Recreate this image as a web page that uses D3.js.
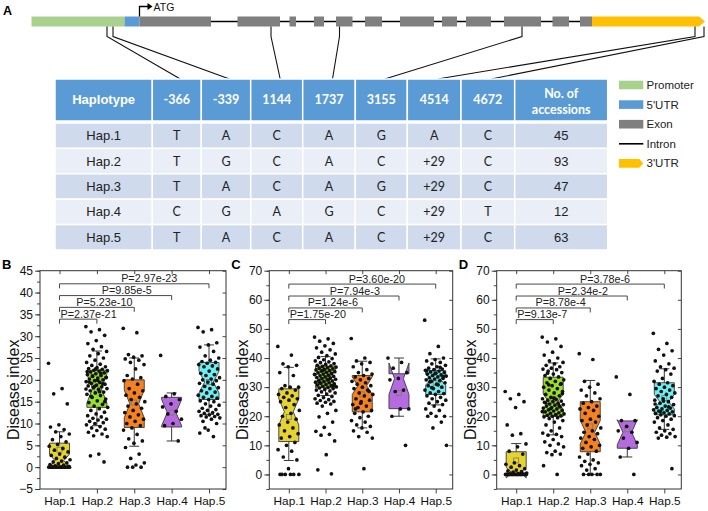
<!DOCTYPE html>
<html>
<head>
<meta charset="utf-8">
<script src="https://d3js.org/d3.v7.min.js"></script>
<style>
  body { margin: 0; background: #fff; }
  svg { display: block; font-family: "Liberation Sans", Arial, sans-serif; }
</style>
</head>
<body>
<svg id="fig" width="708" height="511"></svg>
<script>
// ---------- panel A: gene model (arbitrary units along the gene)
const geneSpan = [0, 673.5];
const promoter = [0, 93];
const utr5 = [93, 108];
const exons = [[108, 179.5], [206, 248.5], [258, 264.5], [282.5, 292.5], [304.5, 321], [333.5, 350.5],
  [368.5, 402.5], [410.5, 425.5], [434.5, 459.5], [472.5, 509.5], [521, 537.5], [548.5, 560.5]];
const utr3 = [560.5, 673.5];
const snpGenePos = [75.5, 81.5, 239.5, 308, 490.5, 663.5, 672.5];

// haplotype table
const snpNames = ["-366", "-339", "1144", "1737", "3155", "4514", "4672"];
const haps = ["Hap.1", "Hap.2", "Hap.3", "Hap.4", "Hap.5"];
const alleles = [
  ["T", "A", "C", "A", "G", "A", "C"],
  ["T", "G", "C", "A", "C", "+29", "C"],
  ["T", "A", "C", "A", "G", "+29", "C"],
  ["C", "G", "A", "G", "C", "+29", "T"],
  ["T", "A", "C", "A", "C", "+29", "C"]
];
const accessions = [45, 93, 47, 12, 63];
const legendNames = ["Promoter", "5'UTR", "Exon", "Intron", "3'UTR"];
const legendColors = ["#a9d18e", "#5b9bd5", "#7f7f7f", "#000", "#ffc000"];

// ---------- panel B
const diB = [
  [23.8,18,16.8,14.5,9.7,9.2,8.6,8.1,7.6,7.0,6.3,5.8,5.2,4.8,4.3,3.9,3.5,3.0,2.7,2.3,2.0,1.7,1.4,1.2,1.0,0.8,0.6,0.5,0.3,0.2,0,0,0,0,0,0,0,0,0,0,0,0,0,0,0],
  [32.2,31.5,31.0,30.2,29.0,28.3,27.6,27.0,26.5,26.0,25.5,25.0,24.5,24.0,23.6,23.3,23.0,22.8,22.6,22.4,22.2,22.1,22.0,21.8,21.6,21.4,21.2,21.0,20.8,20.6,20.4,20.2,20.0,
   19.8,19.6,19.4,19.2,19.0,18.8,18.6,18.4,18.2,18.0,17.8,17.5,17.2,17.0,16.7,16.4,16.0,15.6,15.2,14.8,14.4,14.0,13.7,
   13.4,13.0,12.6,12.2,11.8,11.5,11.2,11.0,10.8,10.5,10.2,10.0,9.7,9.3,9.0,8.7,8.4,8.0,7.6,7.2,7.0,3.0,2.6,1.2,
   22.5,21.9,21.5,20.9,20.5,19.9,19.5,19.1,18.5,17.9,17.3,16.2,15.0],
  [31.8,30.8,25.8,25.5,25.2,24.8,24.5,24,23.5,22.5,21,20.5,20.2,19.8,19,18,17.5,17,16.5,16,15.5,15,14.5,14,13.5,13,12.5,12,11.5,11,10.5,10,9.5,9,8.5,7.5,6.5,6,5.5,4.5,3,2,1,0.5,0,0,0],
  [25.6,16.8,16.2,15.5,14.5,13.8,12.8,12.2,11,10,9.5,6],
  [32,31.5,31,28.5,28,27.5,26.5,25.5,25,24.5,24.2,24,23.8,23.5,23.2,23,22.5,22,21.5,21.2,21,20.5,20.2,20,19.8,19.5,19.2,19,18.5,18.2,
   18,17.5,17.2,17,16.5,16.2,16,15.8,15.5,15.2,15,14.5,14.2,14,13.5,13.2,13,12.8,12.5,12.3,12.1,12,11.8,11.6,11.5,11.3,11,10.5,10,8.5,7.8,7,9]
];
const q1B = [0, 13.7, 9.1, 9.2, 15.5];
const medB = [1.5, 18, 14.5, 12.5, 19.5];
const q3B = [5.5, 22.2, 20, 16, 24];
const notchB = [1.5, 3.3, 3.2, 3, 2.5];
const wloB = [0, 9.5, 4.8, 6, 12.1];
const whiB = [8.1, 26.6, 25, 17, 28];
const meanB = [4.0, 17.8, 14.8, 12.5, 19.5];
const pB = ["P=2.37e-21", "P=5.23e-10", "P=9.85e-5", "P=2.97e-23"];
const barB = [33.9, 36.6, 39.3, 42.0];

// ---------- panel C
const diC = [
  [44,41,38,37.5,37,35,34,30.5,30,30,29.5,29,28,27.5,27,26.5,26,25.5,25,24,23,22,21,20,19,18,17,16,15,14,13,12.5,11,10,8.5,8,6,5,2,0,0,0,0,0,0],
  [47.2,46.6,45.8,45.0,44.2,43.5,42.8,42.0,41.4,40.8,40.2,39.8,39.4,39.0,38.7,38.4,38.1,37.8,37.5,37.3,37.1,36.9,36.7,36.5,36.3,36.1,35.9,35.7,35.5,35.3,
   35.1,34.9,34.7,34.5,34.3,34.1,33.9,33.7,33.5,33.3,33.1,32.9,32.7,32.5,32.3,32.1,31.9,31.7,31.5,31.3,31.1,30.9,30.7,30.5,30.3,30.1,29.9,29.7,29.5,29.2,
   29.0,28.7,28.4,28.0,27.6,27.2,26.8,26.4,26.0,25.7,25.4,25.1,24.8,24.5,24.2,23.5,22.0,21.0,19.8,18.0,16.2,14.8,13.8,13.5,11.5,6.8,1.6,0.2,35.8,34.4,32.6,31.6,30.6],
  [46.7,40,39,38.5,38,37,36,35,34.5,34,33.5,33,32.5,32,31.5,31,30.5,30,29.5,29,28,27.5,27,26,25.5,25,24,23.5,23,22,21.5,21,20,19.5,18.5,18,17,16.5,16,15,14.5,13,12.5,2,22.5,28.5,24.5],
  [40,38.5,36.5,35,33,32.5,29,28.5,22.5,22.5,20,10],
  [53,44,41.5,40,39.5,39,38.5,38,37.5,37,36.5,36.2,36,35.8,35.5,35.2,35,34.8,34.5,34.2,34,33.8,33.5,33.2,33,32.8,32.5,32.2,32,31.5,
   31,30.5,30,29.5,29,28.5,28,27.8,27.5,27,26.5,26,25.5,25,24.5,24,23.5,22.5,22,21,20,20,20,18,16,10,30.8,31.8,33.6,34.6,35.6,36.8,29.8]
];
const q1C = [11.3, 29.8, 21.5, 22.6, 27.5];
const medC = [21.5, 33.5, 30.5, 32.9, 32.6];
const q3C = [29.4, 37.2, 34, 34.6, 35.7];
const notchC = [4.5, 2.5, 3, 5.4, 1.8];
const wloC = [4.8, 27.1, 16, 20, 23.9];
const whiC = [36.8, 40.5, 38.9, 40, 39.7];
const meanC = [19.8, 32.5, 27.5, 28, 31.3];
const pC = ["P=1.75e-20", "P=1.24e-6", "P=7.94e-3", "P=3.60e-20"];
const barC = [53.2, 57.2, 61.3, 65.4];

// ---------- panel D
const diD = [
  [28.5,27.5,26,25,23,17,14,13.5,10.5,9.5,8,7,4,3.5,3,2.5,2,1.5,1.2,1,0.8,0.5,0.3,0.2,0.1,0,0,0,0,0,0,0,0,0,0,0,0,0,0,0,0,0,0,0,0],
  [47.2,46.6,45.5,44.0,42.0,41.0,40.0,39.0,38.5,38.0,37.5,37.0,36.5,36.2,36.0,35.5,35.0,34.5,34.0,33.5,33.0,32.5,32.0,31.5,31.0,30.5,30.0,29.5,29.0,28.5,
   28.0,27.5,27.0,26.5,26.0,25.8,25.5,25.2,25.0,24.8,24.5,24.2,24.0,23.8,23.5,23.2,23.0,22.8,22.5,22.2,22.0,21.8,21.5,21.2,21.0,20.8,20.5,20.3,20.1,20.0,
   19.8,19.5,19.2,18.5,18.0,17.0,16.0,15.0,14.2,13.8,13.5,13.0,12.0,11.2,10.5,10.0,9.5,8.0,7.5,7.0,6.8,3.0,0.0,30.8,27.8,26.2,24.6,23.6,22.6,21.6,20.6,34.8,31.2],
  [41.5,39.5,32,31,30,29,28,27,26,25,24.5,23.5,23,22.5,22,21,20,19,18.5,18,17,16,15,14.5,14,13,12.5,12,11,10,9.5,9,8,7,6,5,4.5,4,3.5,3,2,1.5,0,0,0,0,0],
  [33.5,27.5,18.5,18.5,16.5,15,14.5,12.5,11,9,6,0],
  [48.5,45,43,42.5,41,39,38,37,36.5,36,35.5,34.5,33,32,31.5,31,30.5,30,29.5,29,28.5,28,27.5,27,26.5,26,25.5,25,24.5,24,
   23.5,23,22.8,22.5,22.2,22,21.8,21.5,21.2,21,20.8,20.5,20.2,20,19.5,19,18.5,18,17,16,15.5,15,14.5,14,13.5,13,12.8,12.5,2,25.2,24.2,23.2,21.6]
];
const q1D = [0, 20, 7.8, 9, 20.5];
const medD = [0.6, 25, 14.5, 14.5, 25];
const q3D = [7.8, 33.4, 25, 18.4, 31.5];
const notchD = [1.8, 2.6, 4, 4.3, 2.5];
const wloD = [0, 13.6, 0, 6, 15.5];
const whiD = [10.6, 38.3, 32.3, 18.4, 36.3];
const meanD = [4.8, 26, 16.5, 15.5, 26.2];
const pD = ["P=9.13e-7", "P=8.78e-4", "P=2.34e-2", "P=3.78e-6"];
const barD = [53.2, 57.2, 61.3, 65.4];

const boxColors = ["#e6d42e", "#99e026", "#f5821f", "#b56ae0", "#6cf0f2"];

const svg = d3.select("#fig");

// ================= A: gene structure
const gx = d3.scaleLinear().domain(geneSpan).range([31.5, 705]);
const gTop = 16.5, gBot = 26.5, gMid = 21.5;

svg.append("text").attr("x", 3).attr("y", 15).attr("font-weight", "bold").attr("font-size", 12.5).text("A");

svg.append("line")
  .attr("x1", gx(exons[0][1])).attr("x2", gx(utr3[0]))
  .attr("y1", gMid).attr("y2", gMid)
  .attr("stroke", "#000").attr("stroke-width", 1.5);

svg.append("rect").attr("x", gx(promoter[0])).attr("y", gTop)
  .attr("width", gx(promoter[1]) - gx(promoter[0])).attr("height", gBot - gTop).attr("fill", legendColors[0]);
svg.append("rect").attr("x", gx(utr5[0])).attr("y", gTop)
  .attr("width", gx(utr5[1]) - gx(utr5[0])).attr("height", gBot - gTop).attr("fill", legendColors[1]);
svg.selectAll("rect.exon").data(exons).enter().append("rect").attr("class", "exon")
  .attr("x", d => gx(d[0])).attr("y", gTop)
  .attr("width", d => gx(d[1]) - gx(d[0])).attr("height", gBot - gTop)
  .attr("fill", legendColors[2]);
svg.append("polygon")
  .attr("points", [[gx(utr3[0]), gTop], [gx(utr3[1]) - 6, gTop], [gx(utr3[1]), gMid], [gx(utr3[1]) - 6, gBot], [gx(utr3[0]), gBot]].join(" "))
  .attr("fill", legendColors[4]);

// ATG start arrow
const atgX = gx(exons[0][0]);
svg.append("path").attr("d", `M${atgX},${gTop} V6.5 H${atgX + 9}`).attr("fill", "none").attr("stroke", "#000").attr("stroke-width", 1.3);
svg.append("polygon").attr("points", `${atgX + 13},6.5 ${atgX + 8},3 ${atgX + 8},10`).attr("fill", "#000");
svg.append("text").attr("x", atgX + 14).attr("y", 10.5).attr("font-size", 10.5).attr("fill", "#111").text("ATG");

// table
const colEdges = [55, 152.3, 201.3, 250.7, 302.7, 355.3, 407.3, 461, 514.7, 607.7];
const colMid = i => (colEdges[i] + colEdges[i + 1]) / 2;
const headTop = 79, headBot = 121, rowTop = 123, rowH = 25.4;

// connectors from SNPs to table columns
snpGenePos.forEach((p, i) => {
  svg.append("path")
    .attr("d", `M${gx(p)},${gBot} V${gBot + 10} L${colMid(i + 1) + 3.5},${headTop}`)
    .attr("fill", "none").attr("stroke", "#111").attr("stroke-width", 1.1);
});

const header = ["Haplotype", ...snpNames, "No. of accessions"];
header.forEach((h, i) => {
  svg.append("rect").attr("x", colEdges[i]).attr("y", headTop)
    .attr("width", colEdges[i + 1] - colEdges[i]).attr("height", headBot - headTop)
    .attr("fill", "#5b9bd5").attr("stroke", "#fff").attr("stroke-width", 1.5);
  const t = svg.append("text").attr("x", colMid(i)).attr("text-anchor", "middle")
    .attr("fill", "#fff").attr("font-weight", "bold");
  if (i === 0) {
    t.attr("y", headTop + 25).attr("font-size", 13).text(h);
  } else if (i === header.length - 1) {
    t.attr("font-family", "Lato").attr("font-size", 12.5);
    t.append("tspan").attr("x", colMid(i)).attr("y", headTop + 18.5).text("No. of");
    t.append("tspan").attr("x", colMid(i)).attr("y", headTop + 34.5).text("accessions");
  } else {
    t.attr("y", headTop + 25).attr("font-family", "Lato").attr("font-size", 12.5).text(h);
  }
});

haps.forEach((hp, r) => {
  const y0 = rowTop + r * rowH;
  const cells = [hp, ...alleles[r], String(accessions[r])];
  cells.forEach((c, i) => {
    svg.append("rect").attr("x", colEdges[i]).attr("y", y0)
      .attr("width", colEdges[i + 1] - colEdges[i]).attr("height", rowH)
      .attr("fill", r % 2 === 0 ? "#cfdaec" : "#e9eef7").attr("stroke", "#fff").attr("stroke-width", 1.5);
    const t = svg.append("text").attr("x", colMid(i)).attr("y", y0 + rowH / 2 + 4.5)
      .attr("text-anchor", "middle").attr("fill", "#222").text(c);
    if (i === 0 || i === cells.length - 1) t.attr("font-size", 13);
    else t.attr("font-family", "Lato").attr("font-size", 12.5);
  });
});

// legend
legendNames.forEach((nm, i) => {
  const cy = 85 + i * 19.6, lx = 619, lw = 24.3;
  if (nm === "Intron") {
    svg.append("line").attr("x1", lx).attr("x2", lx + lw).attr("y1", cy).attr("y2", cy)
      .attr("stroke", "#000").attr("stroke-width", 1.6);
  } else if (nm === "3'UTR") {
    svg.append("polygon")
      .attr("points", [[lx, cy - 4.3], [lx + lw - 4, cy - 4.3], [lx + lw, cy], [lx + lw - 4, cy + 4.3], [lx, cy + 4.3]].join(" "))
      .attr("fill", legendColors[i]);
  } else {
    svg.append("rect").attr("x", lx).attr("y", cy - 4.3).attr("width", lw).attr("height", 8.6).attr("fill", legendColors[i]);
  }
  svg.append("text").attr("x", 646.5).attr("y", cy + 4).attr("font-size", 11.5).attr("fill", "#222").text(nm);
});

// ================= B, C, D: notched box plots
const jit = i => (((i * 0.6180339887) % 1) - 0.5) * 22;

function panel(cfg) {
  const { letter, left, right, pTop, pBottom, domain, majors, minors, data, q1, med, q3, notch, wlo, whi, mean, pv, bars } = cfg;
  const y = d3.scaleLinear().domain(domain).range([pBottom, pTop]);
  const x = d3.scalePoint().domain(haps).range([left + 19.5, right - 17]);
  const g = svg.append("g");

  g.append("text").attr("x", left - 38).attr("y", 268.5).attr("font-weight", "bold").attr("font-size", 13).text(letter);

  // axes
  const axL = g.append("g").attr("transform", `translate(${left},0)`)
    .call(d3.axisLeft(y).tickValues(majors).tickSize(5).tickPadding(2).tickFormat(d3.format("d")));
  g.append("g").attr("transform", `translate(${left},0)`)
    .call(d3.axisLeft(y).tickValues(minors).tickSize(3).tickFormat(""));
  g.append("g").attr("transform", `translate(${right},0)`)
    .call(d3.axisLeft(y).tickValues(majors).tickSize(3.5).tickFormat(""));
  g.append("g").attr("transform", `translate(0,${pTop})`)
    .call(d3.axisBottom(x).tickSize(3.5).tickFormat(""));
  const axB = g.append("g").attr("transform", `translate(0,${pBottom})`)
    .call(d3.axisBottom(x).tickSize(4.5).tickPadding(3));
  g.selectAll(".domain").remove();
  g.selectAll(".tick line").attr("stroke", "#333").attr("stroke-width", 0.9);
  axL.selectAll("text").attr("font-size", 12).attr("fill", "#111").attr("font-family", "Liberation Sans, Arial");
  axB.selectAll("text").attr("font-size", 11.8).attr("fill", "#111").attr("font-family", "Liberation Sans, Arial");

  g.append("rect").attr("x", left).attr("y", pTop).attr("width", right - left).attr("height", pBottom - pTop)
    .attr("fill", "none").attr("stroke", "#333").attr("stroke-width", 1);

  g.append("text").attr("transform", `translate(${left - 21},${(pTop + pBottom) / 2 + 10}) rotate(-90)`)
    .attr("text-anchor", "middle").attr("font-size", 16).attr("fill", "#111").text("Disease index");

  const bw = 20, ind = 5.6, cap = 5;
  haps.forEach((h, i) => {
    const cx = x(h), L = cx - bw / 2, R = cx + bw / 2;
    const nHi = med[i] + notch[i], nLo = med[i] - notch[i];
    // whiskers
    const wl = g.append("g").attr("stroke", "#222").attr("stroke-width", 0.9);
    if (whi[i] > q3[i]) {
      wl.append("line").attr("x1", cx).attr("x2", cx).attr("y1", y(q3[i])).attr("y2", y(whi[i]));
      wl.append("line").attr("x1", cx - cap).attr("x2", cx + cap).attr("y1", y(whi[i])).attr("y2", y(whi[i]));
    }
    if (wlo[i] < q1[i]) {
      wl.append("line").attr("x1", cx).attr("x2", cx).attr("y1", y(q1[i])).attr("y2", y(wlo[i]));
      wl.append("line").attr("x1", cx - cap).attr("x2", cx + cap).attr("y1", y(wlo[i])).attr("y2", y(wlo[i]));
    }
    // notched box
    const pts = [[L, q3[i]], [L, nHi], [L + ind, med[i]], [L, nLo], [L, q1[i]],
      [R, q1[i]], [R, nLo], [R - ind, med[i]], [R, nHi], [R, q3[i]]]
      .map(p => [p[0], y(p[1])]);
    g.append("polygon").attr("points", pts.join(" "))
      .attr("fill", boxColors[i]).attr("stroke", "#3a3a3a").attr("stroke-width", 0.9);
    // mean
    g.append("rect").attr("x", cx - 2.5).attr("y", y(mean[i]) - 2.5).attr("width", 5).attr("height", 5)
      .attr("fill", "none").attr("stroke", "#7a7a6a").attr("stroke-width", 0.8);
    // points
    g.append("g").selectAll("circle").data(data[i]).enter().append("circle")
      .attr("cx", (d, j) => cx + jit(j)).attr("cy", d => y(d)).attr("r", 1.85).attr("fill", "#111");
  });

  // significance brackets (Hap.1 vs others)
  const x1 = x(haps[0]);
  pv.forEach((p, k) => {
    const x2 = x(haps[k + 1]), yl = y(bars[k]);
    g.append("path").attr("d", `M${x1},${yl + 4.5} V${yl} H${x2} V${yl + 4.5}`)
      .attr("fill", "none").attr("stroke", "#333").attr("stroke-width", 0.9);
    const t = g.append("text").attr("y", yl - 1.5).attr("font-size", 10.8).attr("fill", "#222")
      .attr("text-anchor", "middle").text(p);
    const w = t.node().getComputedTextLength();
    t.attr("x", Math.max(x1 + w / 2 + 1, x1 + 0.6 * (x2 - x1)));
  });
}

const plotTop = 270.7, plotBottom = 489;
panel({ letter: "B", left: 40, right: 226, pTop: plotTop, pBottom: plotBottom, domain: [-5, 45],
  majors: d3.range(-5, 46, 5), minors: d3.range(-5, 45.1, 2.5),
  data: diB, q1: q1B, med: medB, q3: q3B, notch: notchB, wlo: wloB, whi: whiB, mean: meanB, pv: pB, bars: barB });
panel({ letter: "C", left: 269.3, right: 452.7, pTop: plotTop, pBottom: plotBottom, domain: [-5, 70],
  majors: d3.range(0, 71, 10), minors: d3.range(-5, 70.1, 5),
  data: diC, q1: q1C, med: medC, q3: q3C, notch: notchC, wlo: wloC, whi: whiC, mean: meanC, pv: pC, bars: barC });
panel({ letter: "D", left: 496.7, right: 681.3, pTop: plotTop, pBottom: plotBottom, domain: [-5, 70],
  majors: d3.range(0, 71, 10), minors: d3.range(-5, 70.1, 5),
  data: diD, q1: q1D, med: medD, q3: q3D, notch: notchD, wlo: wloD, whi: whiD, mean: meanD, pv: pD, bars: barD });
</script>
</body>
</html>
